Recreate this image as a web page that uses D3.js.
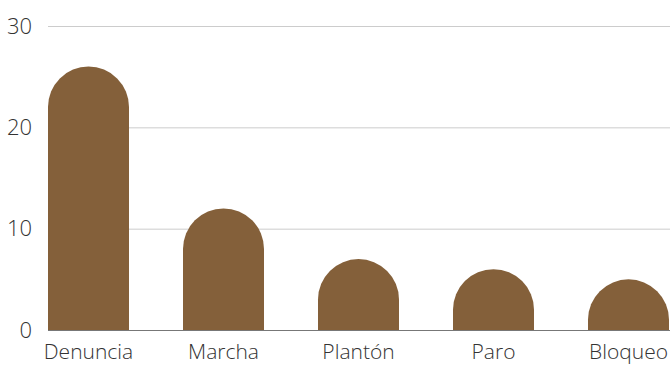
<!DOCTYPE html>
<html>
<head>
<meta charset="utf-8">
<script src="https://cdn.jsdelivr.net/npm/d3@7"></script>
<style>
  body { margin: 0; background: #fff; }
  svg { display: block; font-family: "Open Sans", sans-serif; }
</style>
</head>
<body>
<svg id="chart" width="670" height="365"></svg>
<script>
// data
const categories = ["Denuncia", "Marcha", "Plantón", "Paro", "Bloqueo"];
const values = [26, 12, 7, 6, 5];
const yTicks = [0, 10, 20, 30];

const chartW = 670;
const plotLeft = 48, plotRight = 669, plotTop = 26, plotBottom = 330;
const barColor = "#84603a";

let svg = d3.select("#chart");

// Create the x and y scales
let xscale = d3.scaleBand()
    .domain(categories)
    .range([plotLeft, plotRight])
    .paddingInner(0.4)
    .paddingOuter(0);

let yscale = d3.scaleLinear()
    .domain([0, 30])
    .range([plotBottom, plotTop]);

//gridlines
svg.append("g").selectAll("line").data(yTicks.filter(d => d > 0))
    .enter().append("line")
    .attr("x1", plotLeft)
    .attr("x2", chartW)
    .attr("y1", d => yscale(d) + 0.5)
    .attr("y2", d => yscale(d) + 0.5)
    .style("stroke", "#cccccc")
    .style("stroke-width", 1);

//bars with a round top, the arc top sits on the value
let bw = xscale.bandwidth();
let r = bw / 2;
svg.append("g").selectAll("path").data(values)
    .enter().append("path")
    .attr("d", function(d, i) {
        let x0 = xscale(categories[i]);
        let yTop = yscale(d);
        let y0 = yscale(0);
        let yArc = Math.min(yTop + r, y0);
        return `M${x0},${y0} L${x0},${yArc} A${r},${r} 0 0 1 ${x0 + bw},${yArc} L${x0 + bw},${y0} Z`;
    })
    .style("fill", barColor);

//y axis labels
let yaxis = d3.axisLeft(yscale).tickValues(yTicks).tickSize(0).tickPadding(0);
let yaxisSel = svg.append("g")
    .attr("transform", `translate(32,0)`)
    .call(yaxis);
yaxisSel.select(".domain").remove();
yaxisSel.selectAll("text")
    .style("font-size", "22px")
    .style("font-family", "Open Sans")
    .style("font-weight", 300)
    .attr("fill", "#333");

//x axis line and labels
let xaxis = d3.axisBottom(xscale).tickSize(0).tickPadding(14);
let xaxisSel = svg.append("g")
    .attr("transform", `translate(0, ${plotBottom})`)
    .call(xaxis);
xaxisSel.select(".domain").remove();
xaxisSel.selectAll("text")
    .style("font-size", "21px")
    .style("font-family", "Open Sans")
    .style("font-weight", 300)
    .attr("fill", "#333");

svg.append("line")
    .attr("x1", plotLeft)
    .attr("x2", chartW)
    .attr("y1", plotBottom + 0.5)
    .attr("y2", plotBottom + 0.5)
    .style("stroke", "#777")
    .style("stroke-width", 1);
</script>
</body>
</html>
